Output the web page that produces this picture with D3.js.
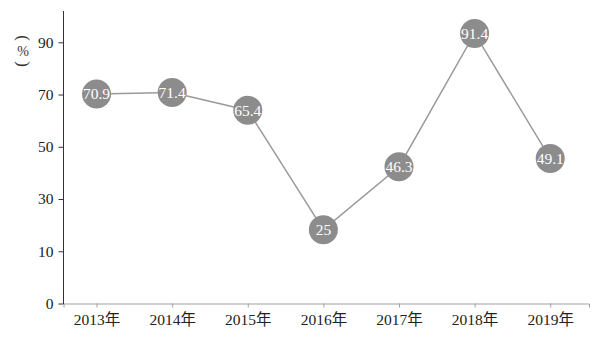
<!DOCTYPE html>
<html>
<head>
<meta charset="utf-8">
<title>rate by year</title>
<script src="https://d3js.org/d3.v7.min.js"></script>
<style>
  body { margin: 0; background: #fff; }
</style>
</head>
<body>
<svg id="chart" width="606" height="341"></svg>
<script>
// data
var years = ["2013年", "2014年", "2015年", "2016年", "2017年", "2018年", "2019年"];
var values = [70.9, 71.4, 65.4, 25, 46.3, 91.4, 49.1];
// the y tick labels are evenly spaced in the original, whatever they say
var yTickLabels = ["0", "10", "30", "50", "70", "90"];

var serif = "Liberation Serif, Times New Roman, Noto Sans CJK SC, serif";

var svg = d3.select("#chart");

var mLeft = 63.5, mRight = 589, mBottom = 303.5, mTop = 11;

var x = d3.scalePoint()
    .domain(years)
    .range([mLeft, mRight])
    .padding(0.475)
    .align(0.46);

// value scale used for the points
var y = d3.scaleLinear()
    .domain([0, 99])
    .range([mBottom, mTop]);

// tick scale for the (odd) axis labels
var yTicks = d3.scalePoint()
    .domain(yTickLabels)
    .range([mBottom, 42.3]);

// x axis
var xAxis = svg.append("g")
    .attr("transform", "translate(0," + mBottom + ")")
    .call(d3.axisBottom(x).tickSize(4).tickSizeOuter(4).tickPadding(6))
    .attr("font-family", serif);
xAxis.select(".domain").attr("stroke", "#a0a0a0");
xAxis.selectAll(".tick line").attr("stroke", "#a0a0a0");
xAxis.selectAll("text")
    .attr("fill", "#222")
    .style("font-size", "15.5px");

// y axis
var yAxis = svg.append("g")
    .attr("transform", "translate(" + mLeft + ",0)")
    .call(d3.axisLeft(yTicks).tickSize(5).tickPadding(5))
    .attr("font-family", serif);
yAxis.select(".domain").remove();
yAxis.selectAll(".tick line").attr("stroke", "#333");
yAxis.selectAll("text")
    .attr("fill", "#222")
    .style("font-size", "15.5px");
svg.append("line")
    .attr("x1", mLeft).attr("x2", mLeft)
    .attr("y1", y(0) + 0.5).attr("y2", y(99))
    .attr("stroke", "#333");

// unit label, set vertically
var unit = svg.append("g")
    .attr("transform", "translate(23,51)")
    .attr("font-family", serif)
    .attr("fill", "#333")
    .attr("text-anchor", "middle");
unit.append("text")
    .attr("transform", "translate(0,-13) rotate(90)")
    .attr("dy", "0.32em")
    .style("font-size", "17px")
    .text("(");
unit.append("text")
    .attr("dy", "0.35em")
    .style("font-size", "14px")
    .text("%");
unit.append("text")
    .attr("transform", "translate(0,13) rotate(90)")
    .attr("dy", "0.32em")
    .style("font-size", "17px")
    .text(")");

var points = years.map(function(d, i) { return { year: d, value: values[i] }; });

var line = d3.line()
    .x(function(d) { return x(d.year); })
    .y(function(d) { return y(d.value); });

svg.append("path")
    .datum(points)
    .attr("fill", "none")
    .attr("stroke", "#9a9a9a")
    .attr("stroke-width", 1.5)
    .attr("d", line);

var dots = svg.append("g")
    .attr("font-family", serif)
    .selectAll("g")
    .data(points)
    .enter()
    .append("g")
    .attr("transform", function(d) { return "translate(" + x(d.year) + "," + y(d.value) + ")"; });

dots.append("circle")
    .attr("r", 14.5)
    .attr("fill", "#8c8c8c");

dots.append("text")
    .attr("text-anchor", "middle")
    .attr("dy", "0.35em")
    .attr("fill", "#fff")
    .style("font-size", "15.5px")
    .text(function(d) { return d.value; });
</script>
</body>
</html>
